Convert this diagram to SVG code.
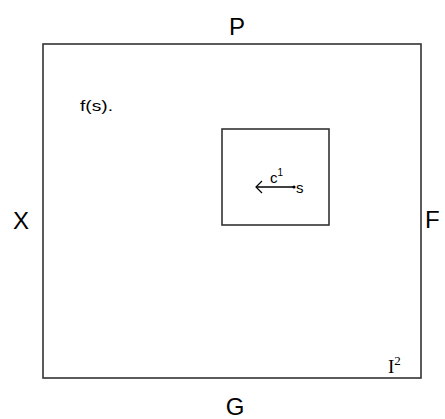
<svg xmlns="http://www.w3.org/2000/svg" width="445" height="419" viewBox="0 0 445 419">
<defs>
<style>
.box{fill:none;stroke:#333;stroke-width:1.6}
.lbl{font-family:"Liberation Sans",Arial,sans-serif;fill:#000}
.big{font-size:24px}
.sm{font-size:15px}
.serif{font-family:"Liberation Serif","Times New Roman",serif;fill:#000;font-size:19px}
.conn{stroke:#000;stroke-width:1.3;fill:none}
</style>
<marker id="open" markerWidth="10" markerHeight="14" refX="7" refY="7" orient="auto" markerUnits="userSpaceOnUse">
<path d="M1,1 L7,7 L1,13" fill="none" stroke="#000" stroke-width="1.2"/>
</marker>
</defs>
<rect width="445" height="419" fill="#fff"/>
<g id="outer">
<rect class="box" x="43" y="44" width="378" height="334"/>
<text class="lbl big" x="237" y="35" text-anchor="middle">P</text>
<text class="lbl big" x="21" y="229" text-anchor="middle">X</text>
<text class="lbl big" x="425" y="228">F</text>
<text class="lbl big" x="235" y="415" text-anchor="middle">G</text>
<text class="lbl sm" x="80" y="111" textLength="33" lengthAdjust="spacingAndGlyphs">f(s).</text>
<text class="serif" x="388" y="373">I<tspan font-size="13" dy="-8">2</tspan></text>
</g>
<g id="inner">
<rect class="box" x="222" y="129" width="107" height="96"/>
<text class="lbl sm" x="270" y="183">c<tspan font-size="10" dy="-7">1</tspan></text>
<text class="lbl sm" x="296" y="193">s</text>
<circle cx="294" cy="187" r="1.6" fill="#000"/>
</g>
<g id="connectors">
<line class="conn" x1="294" y1="187" x2="256" y2="187" marker-end="url(#open)"/>
</g>
</svg>
